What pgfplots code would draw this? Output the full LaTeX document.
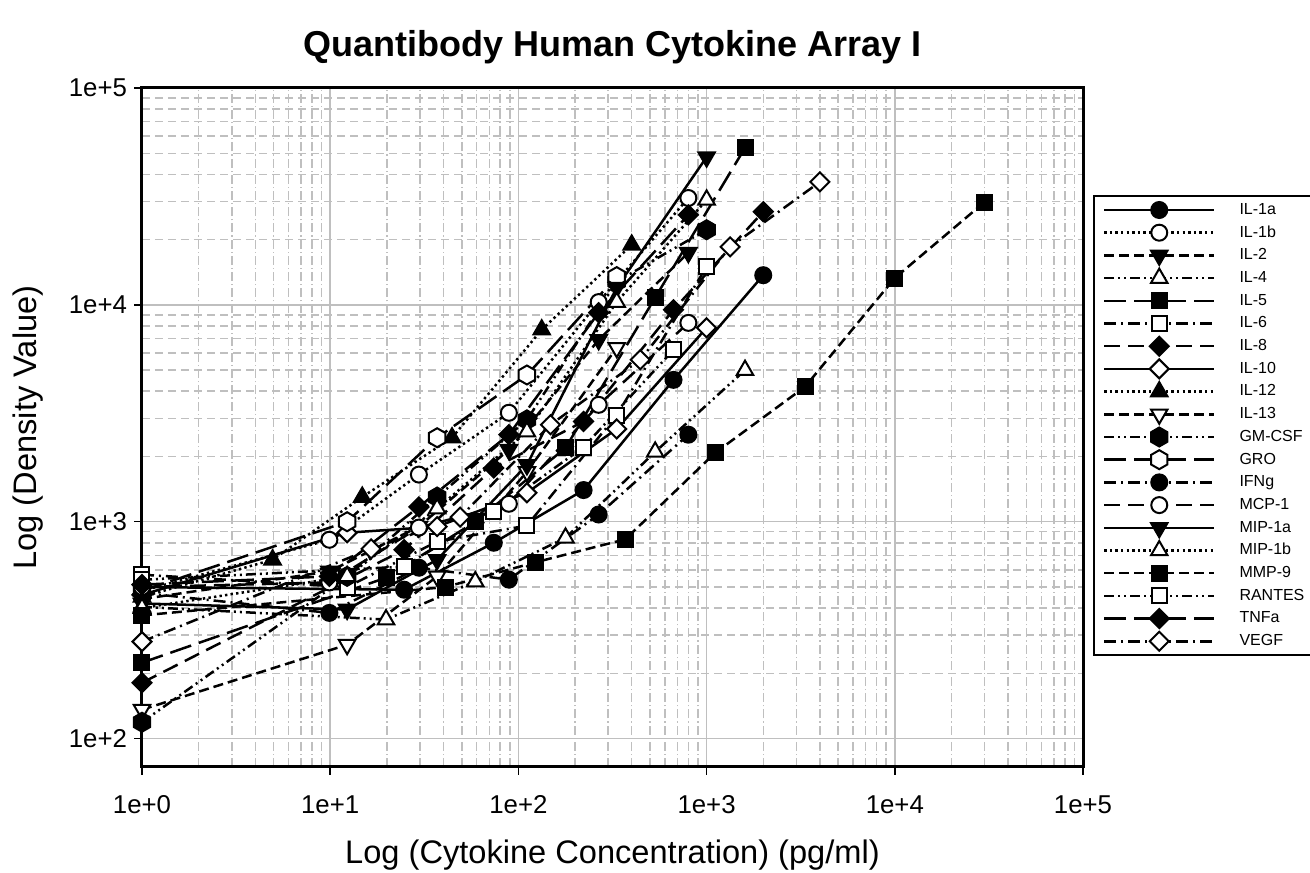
\documentclass[border=0pt]{standalone}
\usepackage{fontspec}
\setmainfont{Liberation Sans}
\usepackage{pgfplots}
\pgfplotsset{compat=1.18}
\usetikzlibrary{plotmarks}

\pgfdeclareplotmark{hex}{%
  \pgfpathmoveto{\pgfqpointpolar{90}{\pgfplotmarksize}}%
  \pgfpathlineto{\pgfqpointpolar{150}{\pgfplotmarksize}}%
  \pgfpathlineto{\pgfqpointpolar{210}{\pgfplotmarksize}}%
  \pgfpathlineto{\pgfqpointpolar{270}{\pgfplotmarksize}}%
  \pgfpathlineto{\pgfqpointpolar{330}{\pgfplotmarksize}}%
  \pgfpathlineto{\pgfqpointpolar{30}{\pgfplotmarksize}}%
  \pgfpathclose\pgfusepathqfillstroke}
\pgfdeclareplotmark{dia}{%
  \pgfpathmoveto{\pgfqpoint{0pt}{\pgfplotmarksize}}%
  \pgfpathlineto{\pgfqpoint{\pgfplotmarksize}{0pt}}%
  \pgfpathlineto{\pgfqpoint{0pt}{-\pgfplotmarksize}}%
  \pgfpathlineto{\pgfqpoint{-\pgfplotmarksize}{0pt}}%
  \pgfpathclose\pgfusepathqfillstroke}

\tikzset{
  lsA/.style={solid},
  lsB/.style={dash pattern=on 1.2pt off 1.6pt},
  lsC/.style={dash pattern=on 5pt off 2.5pt},
  lsD/.style={dash pattern=on 5pt off 2pt on 1pt off 2pt on 1pt off 2pt},
  lsE/.style={dash pattern=on 11pt off 4pt},
  lsF/.style={dash pattern=on 6pt off 2.5pt on 1pt off 2.5pt},
  lsG/.style={dash pattern=on 8pt off 4pt},
  base/.style={black, line width=1.25pt},
  mcirc/.style={mark=*, mark size=4pt, mark options={solid, line width=1pt, draw=black, fill=#1}},
  mdtri/.style={mark=triangle*, mark size=4.75pt, mark options={solid, rotate=180, line width=1pt, draw=black, fill=#1}},
  mutri/.style={mark=triangle*, mark size=4.75pt, mark options={solid, line width=1pt, draw=black, fill=#1}},
  msq/.style={mark=square*, mark size=3.75pt, mark options={solid, line width=1pt, draw=black, fill=#1}},
  mdia/.style={mark=dia, mark size=4.75pt, mark options={solid, line width=1pt, draw=black, fill=#1}},
  mhex/.style={mark=hex, mark size=4.75pt, mark options={solid, line width=1pt, draw=black, fill=#1}},
}

\begin{document}
\begin{tikzpicture}
\useasboundingbox (-71pt,-52.5pt) rectangle (584pt,383.5pt);
\begin{axis}[
  at={(0,0)}, anchor=south west,
  scale only axis, width=470.5pt, height=339.5pt,
  xmode=log, ymode=log,
  xmin=1, xmax=1e5, ymin=74, ymax=1e5,
  xtick={1,10,100,1000,10000,100000},
  xticklabels={1e+0,1e+1,1e+2,1e+3,1e+4,1e+5},
  ytick={100,1000,10000,100000},
  yticklabels={1e+2,1e+3,1e+4,1e+5},
  tick pos=left, tick align=outside,
  major tick length=4pt, minor tick length=0pt,
  tick style={black, line width=0.75pt},
  axis line style={line width=1.5pt},
  grid=both,
  major grid style={solid, color=gray!50, line width=0.75pt},
  minor x grid style={dash pattern=on 4.5pt off 1.5pt on 0.6pt off 1.5pt, color=gray!50, line width=0.75pt},
  minor y grid style={dash pattern=on 4pt off 2.5pt, color=gray!50, line width=0.75pt},
  ticklabel style={font=\fontsize{12.9}{15}\selectfont},
  xticklabel style={anchor=center, yshift=-15pt},
  xlabel={Log (Cytokine Concentration) (pg/ml)},
  ylabel={Log (Density Value)},
  label style={font=\fontsize{16.3}{19}\selectfont},
  xlabel style={at={(axis description cs:0.5,-0.1296)}, anchor=center},
  ylabel style={at={(axis description cs:-0.1211,0.5)}, anchor=center},
  title={Quantibody Human Cytokine Array I},
  title style={font=\fontsize{18}{22}\selectfont\bfseries, at={(axis description cs:0.5,1.0427)}, anchor=center},
  clip=false,
  legend style={at={(1,1)}, anchor=north west, xshift=5pt, yshift=-53.5pt,
    draw=black, line width=1pt, font=\fontsize{8}{10}\selectfont,
    row sep=1.35pt, column sep=11pt, inner xsep=4.5pt, inner ysep=2pt,
    nodes={inner sep=1pt, text height=6.2pt, text depth=1.8pt}},
  legend cell align=left,
  legend image code/.code={\draw[mark repeat=2,mark phase=2,#1] plot coordinates {(0pt,0pt) (27.5pt,0pt) (55pt,0pt)};},
]
% IL-1a
\addplot[base, lsA, mcirc=black] coordinates {(1,500) (24.7,486) (74,800) (222,1400) (667,4510) (2000,13700)};
\addlegendentry{IL-1a}
% IL-1b
\addplot[base, lsB, mcirc=white] coordinates {(1,480) (9.9,826) (29.6,1650) (89,3180) (267,10300) (800,31100)};
\addlegendentry{IL-1b}
% IL-2
\addplot[base, lsC, mdtri=black] coordinates {(1,440) (9.9,590) (29.6,950) (89,2150) (267,6900) (800,17400)};
\addlegendentry{IL-2}
% IL-4
\addplot[base, lsD, mutri=white] coordinates {(1,405) (19.8,354) (59,530) (178,843) (533,2100) (1600,5000)};
\addlegendentry{IL-4}
% IL-5
\addplot[base, lsE, msq=black] coordinates {(1,224) (19.8,552) (59,1000) (178,2190) (533,10800) (1600,53000)};
\addlegendentry{IL-5}
% IL-6
\addplot[base, lsF, msq=white] coordinates {(1,570) (12.3,500) (37,810) (111,960) (333,3100) (1000,15000)};
\addlegendentry{IL-6}
% IL-8
\addplot[base, lsG, mdia=black] coordinates {(1,181) (24.7,743) (74,1770) (222,2900) (667,9500) (2000,26900)};
\addlegendentry{IL-8}
% IL-10
\addplot[base, lsA, mdia=white] coordinates {(1,460) (12.3,890) (37,950) (111,1360) (333,2680) (1000,7840)};
\addlegendentry{IL-10}
% IL-12
\addplot[base, lsB, mutri=black] coordinates {(1,450) (4.94,668) (14.8,1300) (44.4,2440) (133,7680) (400,18900)};
\addlegendentry{IL-12}
% IL-13
\addplot[base, lsC, mdtri=white] coordinates {(1,136) (12.3,271) (37,560) (111,1700) (333,6340)};
\addlegendentry{IL-13}
% GM-CSF
\addplot[base, lsD, mhex=black] coordinates {(1,119) (12.3,560) (37,1300) (111,2950) (333,12800) (1000,22200)};
\addlegendentry{GM-CSF}
% GRO
\addplot[base, lsE, mhex=white] coordinates {(1,480) (12.3,1000) (37,2440) (111,4750) (333,13500)};
\addlegendentry{GRO}
% IFNg
\addplot[base, lsF, mcirc=black] coordinates {(1,470) (9.9,380) (29.6,614) (89,541) (267,1080) (800,2520)};
\addlegendentry{IFNg}
% MCP-1
\addplot[base, lsG, mcirc=white] coordinates {(1,500) (9.9,525) (29.6,940) (89,1210) (267,3460) (800,8260)};
\addlegendentry{MCP-1}
% MIP-1a
\addplot[base, lsA, mdtri=black] coordinates {(1,420) (12.3,394) (37,668) (111,1830) (333,12000) (1000,48000)};
\addlegendentry{MIP-1a}
% MIP-1b
\addplot[base, lsB, mutri=white] coordinates {(1,400) (12.3,560) (37,1150) (111,2600) (333,10300) (1000,30500)};
\addlegendentry{MIP-1b}
% MMP-9
\addplot[base, lsC, msq=black] coordinates {(1,370) (41,500) (123,650) (370,830) (1111,2080) (3333,4190) (10000,13300) (30000,29800)};
\addlegendentry{MMP-9}
% RANTES
\addplot[base, lsD, msq=white] coordinates {(1,540) (24.7,621) (74,1110) (222,2210) (667,6200)};
\addlegendentry{RANTES}
% TNFa
\addplot[base, lsE, mdia=black] coordinates {(1,513) (9.9,560) (29.6,1170) (89,2520) (267,9200) (800,26000)};
\addlegendentry{TNFa}
% VEGF
\addplot[base, lsF, mdia=white] coordinates {(1,280) (16.5,750) (49,1050) (148,2800) (444,5580) (1333,18500) (4000,36900)};
\addlegendentry{VEGF}
\end{axis}
\end{tikzpicture}
\end{document}
